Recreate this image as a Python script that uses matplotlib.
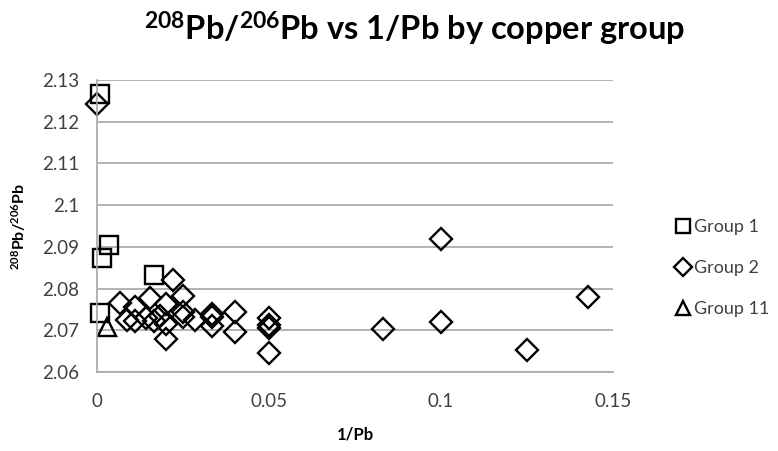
import matplotlib.pyplot as plt

plt.rcParams['font.family'] = ['Lato', 'DejaVu Sans']
plt.rcParams['mathtext.default'] = 'regular'

# group 1 (squares)
g1_x = [0.001, 0.0035, 0.0015, 0.001, 0.0167]
g1_y = [2.1267, 2.0905, 2.0873, 2.0742, 2.0832]

# group 2 (diamonds)
g2_x = [0.0, 0.0067, 0.0087, 0.0111, 0.0111, 0.0143, 0.0154, 0.0167,
        0.0182, 0.0200, 0.0200, 0.0200, 0.0222, 0.0250, 0.0250, 0.0250,
        0.0286, 0.0333, 0.0333, 0.0333, 0.0400, 0.0400, 0.0500, 0.0500,
        0.0500, 0.0500, 0.0833, 0.1000, 0.1000, 0.1250, 0.1429]
g2_y = [2.1243, 2.0765, 2.0725, 2.0757, 2.0722, 2.0730, 2.0778, 2.0722,
        2.0735, 2.0762, 2.0715, 2.0680, 2.0820, 2.0782, 2.0745, 2.0733,
        2.0725, 2.0740, 2.0733, 2.0710, 2.0745, 2.0697, 2.0730, 2.0712,
        2.0705, 2.0645, 2.0703, 2.0920, 2.0720, 2.0653, 2.0780]

# group 11 (triangles)
g11_x = [0.003]
g11_y = [2.0708]

x_ticks = [0, 0.05, 0.1, 0.15]
x_labels = ['0', '0.05', '0.1', '0.15']
y_ticks = [2.06, 2.07, 2.08, 2.09, 2.1, 2.11, 2.12, 2.13]
y_labels = ['2.06', '2.07', '2.08', '2.09', '2.1', '2.11', '2.12', '2.13']

fig = plt.figure(figsize=(7.78, 4.51), dpi=100)
ax = fig.add_axes([0.1247, 0.175, 0.663, 0.6476])

style = dict(linestyle='none', markerfacecolor='none', markeredgecolor='black',
             markeredgewidth=1.7, clip_on=False)
ax.plot(g1_x, g1_y, marker='s', markersize=12.5, label='Group 1', **style)
ax.plot(g2_x, g2_y, marker='D', markersize=11, label='Group 2', **style)
ax.plot(g11_x, g11_y, marker='^', markersize=13, label='Group 11', **style)

ax.set_xlim(0, 0.15)
ax.set_ylim(2.06, 2.13)
ax.set_xticks(x_ticks)
ax.set_xticklabels(x_labels)
ax.set_yticks(y_ticks)
ax.set_yticklabels(y_labels)
ax.tick_params(length=0, labelsize=13.5, labelcolor='#404040')
ax.tick_params(axis='y', pad=13)
ax.tick_params(axis='x', pad=15)

ax.grid(axis='y', color='#a6a6a6', linewidth=1.2)
ax.set_axisbelow(True)
for s in ['top', 'right']:
    ax.spines[s].set_visible(False)
for s in ['left', 'bottom']:
    ax.spines[s].set_color('#a6a6a6')
    ax.spines[s].set_linewidth(1.2)

ax.set_xlabel('1/Pb', fontsize=12, fontweight='bold', labelpad=12)
ax.set_ylabel('$^{208}$Pb/$^{206}$Pb', fontsize=11.5, fontweight='bold', labelpad=10)

fig.text(0.533, 0.935, '$^{208}$Pb/$^{206}$Pb vs 1/Pb by copper group',
         ha='center', va='center', fontsize=23.5, fontweight='bold')

ax.legend(loc='center left', bbox_to_anchor=(1.09, 0.356), frameon=False,
          fontsize=13, markerscale=0.8, handlelength=0.8, handletextpad=0.2,
          labelspacing=1.4, labelcolor='#404040')

fig.savefig('out.png', dpi=100)
